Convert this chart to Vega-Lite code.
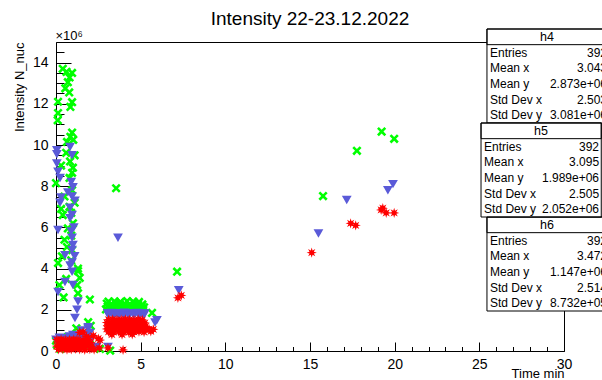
{
"$schema": "https://vega.github.io/schema/vega-lite/v6.json",
"width": 508, "height": 309,
"autosize": {"type": "none"},
"padding": {"left": 56, "top": 42, "right": 38, "bottom": 29},
"background": "white",
"config": {"view": {"stroke": "black", "strokeWidth": 1}, "font": "Liberation Sans",
  "axis": {"grid": false, "tickColor": "black", "domainColor": "black", "labelColor": "black", "titleColor": "black", "labelFont": "Liberation Sans", "titleFont": "Liberation Sans", "titleFontWeight": "normal"},
  "text": {"font": "Liberation Sans", "fontSize": 12, "color": "black"}},
"title": {"text": "Intensity 22-23.12.2022", "fontSize": 19, "fontWeight": "normal", "font": "Liberation Sans", "color": "black", "offset": 0, "anchor": "middle"},
"datasets": {
"points": [
{"series":"h4","time":0.40,"intensity":13.70},{"series":"h4","time":0.62,"intensity":13.55},{"series":"h4","time":0.95,"intensity":13.50},{"series":"h4","time":0.80,"intensity":13.28},{"series":"h4","time":0.70,"intensity":13.05},{"series":"h4","time":0.55,"intensity":12.75},{"series":"h4","time":0.78,"intensity":12.55},{"series":"h4","time":0.12,"intensity":12.10},{"series":"h4","time":0.95,"intensity":12.08},{"series":"h4","time":0.85,"intensity":11.85},{"series":"h4","time":0.12,"intensity":11.55},{"series":"h4","time":0.10,"intensity":11.20},{"series":"h4","time":0.95,"intensity":10.60},{"series":"h4","time":0.85,"intensity":10.40},{"series":"h4","time":1.02,"intensity":10.25},{"series":"h4","time":0.65,"intensity":10.15},{"series":"h4","time":0.60,"intensity":9.62},{"series":"h4","time":1.10,"intensity":9.50},{"series":"h4","time":0.83,"intensity":9.20},{"series":"h4","time":0.30,"intensity":9.00},{"series":"h4","time":1.00,"intensity":8.90},{"series":"h4","time":0.95,"intensity":8.65},{"series":"h4","time":0.80,"intensity":8.40},{"series":"h4","time":0.00,"intensity":8.15},{"series":"h4","time":0.95,"intensity":7.80},{"series":"h4","time":0.50,"intensity":7.50},{"series":"h4","time":1.10,"intensity":7.20},{"series":"h4","time":0.80,"intensity":7.00},{"series":"h4","time":0.30,"intensity":6.90},{"series":"h4","time":0.90,"intensity":6.70},{"series":"h4","time":0.40,"intensity":6.60},{"series":"h4","time":1.00,"intensity":6.20},{"series":"h4","time":0.70,"intensity":5.95},{"series":"h4","time":0.90,"intensity":5.60},{"series":"h4","time":0.50,"intensity":5.40},{"series":"h4","time":0.65,"intensity":5.05},{"series":"h4","time":0.95,"intensity":4.90},{"series":"h4","time":0.35,"intensity":4.60},{"series":"h4","time":0.90,"intensity":4.40},{"series":"h4","time":0.12,"intensity":4.27},{"series":"h4","time":1.30,"intensity":4.00},{"series":"h4","time":1.30,"intensity":3.88},{"series":"h4","time":0.60,"intensity":3.50},{"series":"h4","time":1.40,"intensity":3.55},{"series":"h4","time":1.25,"intensity":3.20},{"series":"h4","time":0.20,"intensity":3.20},{"series":"h4","time":1.30,"intensity":2.80},{"series":"h4","time":0.45,"intensity":2.60},{"series":"h4","time":2.00,"intensity":2.50},{"series":"h4","time":1.90,"intensity":1.40},{"series":"h4","time":2.05,"intensity":1.22},{"series":"h4","time":1.20,"intensity":1.10},
{"series":"h4","time":0.00,"intensity":0.50},{"series":"h4","time":0.05,"intensity":0.30},{"series":"h4","time":0.25,"intensity":0.10},{"series":"h4","time":0.45,"intensity":0.45},{"series":"h4","time":0.70,"intensity":0.68},{"series":"h4","time":0.90,"intensity":0.25},{"series":"h4","time":1.15,"intensity":0.40},{"series":"h4","time":1.55,"intensity":0.20},{"series":"h4","time":2.00,"intensity":0.30},{"series":"h4","time":2.60,"intensity":0.10},{"series":"h4","time":3.20,"intensity":0.02},
{"series":"h4","time":3.10,"intensity":2.40},{"series":"h4","time":3.45,"intensity":2.41},{"series":"h4","time":3.80,"intensity":2.39},{"series":"h4","time":4.20,"intensity":2.42},{"series":"h4","time":4.55,"intensity":2.40},{"series":"h4","time":4.90,"intensity":2.38},
{"series":"h4","time":3.00,"intensity":2.30},{"series":"h4","time":3.25,"intensity":2.28},{"series":"h4","time":3.55,"intensity":2.31},{"series":"h4","time":3.75,"intensity":2.29},{"series":"h4","time":4.05,"intensity":2.30},{"series":"h4","time":4.35,"intensity":2.27},{"series":"h4","time":4.65,"intensity":2.31},{"series":"h4","time":4.85,"intensity":2.29},{"series":"h4","time":5.10,"intensity":2.26},
{"series":"h4","time":3.05,"intensity":2.16},{"series":"h4","time":3.30,"intensity":2.15},{"series":"h4","time":3.50,"intensity":2.17},{"series":"h4","time":3.80,"intensity":2.16},{"series":"h4","time":4.00,"intensity":2.14},{"series":"h4","time":4.30,"intensity":2.16},{"series":"h4","time":4.55,"intensity":2.17},{"series":"h4","time":4.80,"intensity":2.15},{"series":"h4","time":5.05,"intensity":2.16},{"series":"h4","time":5.20,"intensity":2.12},
{"series":"h4","time":2.95,"intensity":2.02},{"series":"h4","time":3.20,"intensity":2.01},{"series":"h4","time":3.45,"intensity":2.03},{"series":"h4","time":3.70,"intensity":2.02},{"series":"h4","time":3.95,"intensity":2.00},{"series":"h4","time":4.20,"intensity":2.02},{"series":"h4","time":4.45,"intensity":2.03},{"series":"h4","time":4.70,"intensity":2.01},{"series":"h4","time":4.95,"intensity":2.02},{"series":"h4","time":5.15,"intensity":2.00},
{"series":"h4","time":3.55,"intensity":7.90},{"series":"h4","time":7.15,"intensity":3.85},{"series":"h4","time":5.67,"intensity":1.85},{"series":"h4","time":15.77,"intensity":7.52},{"series":"h4","time":17.77,"intensity":9.72},{"series":"h4","time":19.23,"intensity":10.65},{"series":"h4","time":19.97,"intensity":10.30},
{"series":"h5","time":0.05,"intensity":9.75},{"series":"h5","time":0.83,"intensity":9.90},{"series":"h5","time":0.95,"intensity":9.50},{"series":"h5","time":0.05,"intensity":9.55},{"series":"h5","time":0.05,"intensity":9.10},{"series":"h5","time":0.12,"intensity":8.70},{"series":"h5","time":0.24,"intensity":8.40},{"series":"h5","time":0.90,"intensity":8.20},{"series":"h5","time":1.00,"intensity":7.95},{"series":"h5","time":0.70,"intensity":7.70},{"series":"h5","time":0.95,"intensity":7.50},{"series":"h5","time":0.30,"intensity":7.45},{"series":"h5","time":1.12,"intensity":7.30},{"series":"h5","time":0.24,"intensity":7.20},{"series":"h5","time":0.83,"intensity":6.95},{"series":"h5","time":0.95,"intensity":6.60},{"series":"h5","time":0.83,"intensity":6.45},{"series":"h5","time":1.05,"intensity":6.00},{"series":"h5","time":0.12,"intensity":5.87},{"series":"h5","time":0.90,"intensity":5.80},{"series":"h5","time":0.95,"intensity":5.50},{"series":"h5","time":1.00,"intensity":5.15},{"series":"h5","time":0.95,"intensity":4.90},{"series":"h5","time":0.53,"intensity":4.65},{"series":"h5","time":1.10,"intensity":4.60},{"series":"h5","time":0.95,"intensity":4.30},{"series":"h5","time":0.83,"intensity":4.15},{"series":"h5","time":0.95,"intensity":3.85},{"series":"h5","time":0.53,"intensity":3.35},{"series":"h5","time":1.00,"intensity":3.20},{"series":"h5","time":0.12,"intensity":2.86},{"series":"h5","time":1.30,"intensity":2.40},{"series":"h5","time":1.24,"intensity":2.00},{"series":"h5","time":1.12,"intensity":1.60},{"series":"h5","time":1.90,"intensity":1.16},{"series":"h5","time":1.90,"intensity":1.08},{"series":"h5","time":2.00,"intensity":0.87},{"series":"h5","time":1.50,"intensity":1.00},{"series":"h5","time":2.40,"intensity":0.20},{"series":"h5","time":3.07,"intensity":0.20},
{"series":"h5","time":0.00,"intensity":0.55},{"series":"h5","time":0.20,"intensity":0.65},{"series":"h5","time":0.40,"intensity":0.58},{"series":"h5","time":0.60,"intensity":0.62},{"series":"h5","time":0.80,"intensity":0.70},{"series":"h5","time":1.00,"intensity":0.78},{"series":"h5","time":1.20,"intensity":0.66},{"series":"h5","time":1.40,"intensity":0.72},{"series":"h5","time":1.60,"intensity":0.80},{"series":"h5","time":1.80,"intensity":0.74},{"series":"h5","time":0.10,"intensity":0.42},{"series":"h5","time":0.50,"intensity":0.45},{"series":"h5","time":0.90,"intensity":0.48},{"series":"h5","time":1.30,"intensity":0.50},{"series":"h5","time":1.70,"intensity":0.52},{"series":"h5","time":2.10,"intensity":0.60},
{"series":"h5","time":3.05,"intensity":1.84},{"series":"h5","time":3.30,"intensity":1.85},{"series":"h5","time":3.55,"intensity":1.83},{"series":"h5","time":3.80,"intensity":1.84},{"series":"h5","time":4.05,"intensity":1.86},{"series":"h5","time":4.30,"intensity":1.84},{"series":"h5","time":4.55,"intensity":1.83},{"series":"h5","time":4.80,"intensity":1.85},{"series":"h5","time":5.05,"intensity":1.84},{"series":"h5","time":5.25,"intensity":1.82},
{"series":"h5","time":3.10,"intensity":1.72},{"series":"h5","time":3.40,"intensity":1.71},{"series":"h5","time":3.70,"intensity":1.73},{"series":"h5","time":4.00,"intensity":1.72},{"series":"h5","time":4.30,"intensity":1.70},{"series":"h5","time":4.60,"intensity":1.72},{"series":"h5","time":4.90,"intensity":1.73},{"series":"h5","time":5.15,"intensity":1.71},
{"series":"h5","time":3.66,"intensity":5.50},{"series":"h5","time":7.25,"intensity":2.95},{"series":"h5","time":5.96,"intensity":1.50},{"series":"h5","time":5.85,"intensity":1.38},{"series":"h5","time":15.50,"intensity":5.70},{"series":"h5","time":17.17,"intensity":7.33},{"series":"h5","time":19.60,"intensity":7.80},{"series":"h5","time":19.90,"intensity":8.10},
{"series":"h6","time":0.05,"intensity":0.55},{"series":"h6","time":0.30,"intensity":0.56},{"series":"h6","time":0.55,"intensity":0.54},{"series":"h6","time":0.80,"intensity":0.55},{"series":"h6","time":1.05,"intensity":0.57},{"series":"h6","time":1.30,"intensity":0.55},{"series":"h6","time":1.60,"intensity":0.53},{"series":"h6","time":1.90,"intensity":0.56},
{"series":"h6","time":0.15,"intensity":0.40},{"series":"h6","time":0.40,"intensity":0.41},{"series":"h6","time":0.65,"intensity":0.39},{"series":"h6","time":0.90,"intensity":0.40},{"series":"h6","time":1.15,"intensity":0.42},{"series":"h6","time":1.45,"intensity":0.40},{"series":"h6","time":1.75,"intensity":0.38},{"series":"h6","time":2.05,"intensity":0.41},
{"series":"h6","time":0.05,"intensity":0.24},{"series":"h6","time":0.30,"intensity":0.25},{"series":"h6","time":0.55,"intensity":0.23},{"series":"h6","time":0.80,"intensity":0.24},{"series":"h6","time":1.05,"intensity":0.26},{"series":"h6","time":1.30,"intensity":0.24},{"series":"h6","time":1.55,"intensity":0.22},{"series":"h6","time":1.80,"intensity":0.25},{"series":"h6","time":2.10,"intensity":0.23},
{"series":"h6","time":0.15,"intensity":0.08},{"series":"h6","time":0.40,"intensity":0.09},{"series":"h6","time":0.65,"intensity":0.07},{"series":"h6","time":0.90,"intensity":0.08},{"series":"h6","time":1.15,"intensity":0.10},{"series":"h6","time":1.40,"intensity":0.08},{"series":"h6","time":1.70,"intensity":0.06},{"series":"h6","time":2.00,"intensity":0.09},{"series":"h6","time":2.25,"intensity":0.07},
{"series":"h6","time":1.40,"intensity":0.90},{"series":"h6","time":1.60,"intensity":0.92},{"series":"h6","time":1.80,"intensity":0.70},{"series":"h6","time":2.20,"intensity":0.75},{"series":"h6","time":2.50,"intensity":0.60},{"series":"h6","time":2.60,"intensity":0.53},{"series":"h6","time":2.55,"intensity":0.15},{"series":"h6","time":3.07,"intensity":0.15},{"series":"h6","time":3.96,"intensity":0.05},
{"series":"h6","time":3.10,"intensity":1.52},{"series":"h6","time":3.35,"intensity":1.53},{"series":"h6","time":3.60,"intensity":1.51},{"series":"h6","time":3.85,"intensity":1.52},{"series":"h6","time":4.10,"intensity":1.54},{"series":"h6","time":4.35,"intensity":1.52},{"series":"h6","time":4.60,"intensity":1.50},{"series":"h6","time":4.85,"intensity":1.53},{"series":"h6","time":5.10,"intensity":1.51},
{"series":"h6","time":3.00,"intensity":1.38},{"series":"h6","time":3.25,"intensity":1.37},{"series":"h6","time":3.50,"intensity":1.39},{"series":"h6","time":3.75,"intensity":1.38},{"series":"h6","time":4.00,"intensity":1.36},{"series":"h6","time":4.25,"intensity":1.38},{"series":"h6","time":4.50,"intensity":1.39},{"series":"h6","time":4.75,"intensity":1.37},{"series":"h6","time":5.00,"intensity":1.38},{"series":"h6","time":5.25,"intensity":1.36},
{"series":"h6","time":3.05,"intensity":1.22},{"series":"h6","time":3.30,"intensity":1.21},{"series":"h6","time":3.55,"intensity":1.23},{"series":"h6","time":3.80,"intensity":1.22},{"series":"h6","time":4.05,"intensity":1.20},{"series":"h6","time":4.30,"intensity":1.22},{"series":"h6","time":4.55,"intensity":1.23},{"series":"h6","time":4.80,"intensity":1.21},{"series":"h6","time":5.05,"intensity":1.22},{"series":"h6","time":5.30,"intensity":1.20},
{"series":"h6","time":3.00,"intensity":1.07},{"series":"h6","time":3.25,"intensity":1.06},{"series":"h6","time":3.50,"intensity":1.08},{"series":"h6","time":3.75,"intensity":1.07},{"series":"h6","time":4.00,"intensity":1.05},{"series":"h6","time":4.25,"intensity":1.07},{"series":"h6","time":4.50,"intensity":1.08},{"series":"h6","time":4.75,"intensity":1.06},{"series":"h6","time":5.00,"intensity":1.07},{"series":"h6","time":5.25,"intensity":1.05},{"series":"h6","time":5.50,"intensity":1.06},
{"series":"h6","time":3.10,"intensity":0.93},{"series":"h6","time":3.40,"intensity":0.92},{"series":"h6","time":3.70,"intensity":0.94},{"series":"h6","time":4.00,"intensity":0.93},{"series":"h6","time":4.30,"intensity":0.91},{"series":"h6","time":4.60,"intensity":0.93},{"series":"h6","time":4.90,"intensity":0.94},{"series":"h6","time":5.20,"intensity":0.92},{"series":"h6","time":5.60,"intensity":0.95},
{"series":"h6","time":3.30,"intensity":0.80},{"series":"h6","time":3.90,"intensity":0.79},{"series":"h6","time":4.50,"intensity":0.81},{"series":"h6","time":5.75,"intensity":1.05},
{"series":"h6","time":7.20,"intensity":2.58},{"series":"h6","time":7.40,"intensity":2.70},{"series":"h6","time":15.10,"intensity":4.77},{"series":"h6","time":17.40,"intensity":6.20},{"series":"h6","time":17.70,"intensity":6.10},{"series":"h6","time":19.20,"intensity":6.85},{"series":"h6","time":19.30,"intensity":6.93},{"series":"h6","time":19.50,"intensity":6.70},{"series":"h6","time":19.97,"intensity":6.70}
],
"stats": [
{"box":"h4","stat":"title","value":"h4"},{"box":"h4","stat":"Entries","value":"392"},{"box":"h4","stat":"Mean x","value":"3.043"},{"box":"h4","stat":"Mean y","value":"2.873e+06"},{"box":"h4","stat":"Std Dev x","value":"2.503"},{"box":"h4","stat":"Std Dev y","value":"3.081e+06"},
{"box":"h5","stat":"title","value":"h5"},{"box":"h5","stat":"Entries","value":"392"},{"box":"h5","stat":"Mean x","value":"3.095"},{"box":"h5","stat":"Mean y","value":"1.989e+06"},{"box":"h5","stat":"Std Dev x","value":"2.505"},{"box":"h5","stat":"Std Dev y","value":"2.052e+06"},
{"box":"h6","stat":"title","value":"h6"},{"box":"h6","stat":"Entries","value":"392"},{"box":"h6","stat":"Mean x","value":"3.472"},{"box":"h6","stat":"Mean y","value":"1.147e+06"},{"box":"h6","stat":"Std Dev x","value":"2.514"},{"box":"h6","stat":"Std Dev y","value":"8.732e+05"}
]
},
"layer": [
{"data": {"name": "points"}, "transform": [{"filter": {"field": "series", "equal": "h4"}}],
 "mark": {"type": "point", "shape": "M-1,-0.6L-0.6,-1L0,-0.4L0.6,-1L1,-0.6L0.4,0L1,0.6L0.6,1L0,0.4L-0.6,1L-1,0.6L-0.4,0Z", "filled": true, "color": "#00ff00", "size": 85, "opacity": 1, "strokeWidth": 0},
 "encoding": {
  "x": {"field": "time", "type": "quantitative", "scale": {"domain": [0, 30], "nice": false, "zero": false},
        "axis": {"orient": "bottom", "values": [0,5,10,15,20,25,30], "format": "d", "tickSize": -9, "labelPadding": 15, "labelFlush": false, "labelFontSize": 14, "title": "Time min", "titleFontSize": 13, "titleAnchor": "end", "titleAlign": "right", "titleX": 508, "titleY": 22, "titleBaseline": "middle"}},
  "y": {"field": "intensity", "type": "quantitative", "scale": {"domain": [0, 15], "nice": false, "zero": false},
        "axis": {"orient": "left", "values": [0,2,4,6,8,10,12,14], "format": "d", "tickSize": -15, "labelPadding": 23, "labelFontSize": 14, "title": "Intensity N_nuc", "titleFontSize": 13, "titleAngle": -90, "titleX": -37, "titleY": 0, "titleAlign": "right", "titleBaseline": "middle"}}
 }},
{"data": {"name": "points"}, "transform": [{"filter": {"field": "series", "equal": "h5"}}],
 "mark": {"type": "point", "shape": "triangle-down", "filled": true, "color": "#5a5ad8", "size": 95, "opacity": 1, "strokeWidth": 0},
 "encoding": {
  "x": {"field": "time", "type": "quantitative", "scale": {"domain": [0, 30], "nice": false, "zero": false},
        "axis": {"orient": "bottom", "values": [0,1,2,3,4,6,7,8,9,11,12,13,14,16,17,18,19,21,22,23,24,26,27,28,29], "tickSize": -4.5, "labels": false, "domain": false, "title": null}},
  "y": {"field": "intensity", "type": "quantitative", "scale": {"domain": [0, 15], "nice": false, "zero": false},
        "axis": {"orient": "left", "values": [0.5,1,1.5,2.5,3,3.5,4.5,5,5.5,6.5,7,7.5,8.5,9,9.5,10.5,11,11.5,12.5,13,13.5,14.5], "tickSize": -8, "labels": false, "domain": false, "title": "×10⁶", "titleFontSize": 13, "titleAngle": 0, "titleX": -1, "titleY": -3, "titleAlign": "left", "titleBaseline": "alphabetic"}}
 }},
{"data": {"name": "points"}, "transform": [{"filter": {"field": "series", "equal": "h6"}}],
 "mark": {"type": "point", "shape": "M0,-1L0.172,-0.416L0.707,-0.707L0.416,-0.172L1,0L0.416,0.172L0.707,0.707L0.172,0.416L0,1L-0.172,0.416L-0.707,0.707L-0.416,0.172L-1,0L-0.416,-0.172L-0.707,-0.707L-0.172,-0.416Z", "filled": true, "color": "#ff0000", "size": 105, "opacity": 1, "strokeWidth": 0},
 "encoding": {
  "x": {"field": "time", "type": "quantitative", "scale": {"domain": [0, 30], "nice": false, "zero": false}, "axis": null},
  "y": {"field": "intensity", "type": "quantitative", "scale": {"domain": [0, 15], "nice": false, "zero": false}, "axis": null}
 }},
{"data": {"name": "stats"}, "transform": [{"filter": "datum.stat === 'title' && datum.box !== 'h5'"}],
 "mark": {"type": "rect", "fill": "white", "stroke": "black", "strokeWidth": 1},
 "encoding": {"x": {"datum": 25.45, "type": "quantitative", "axis": null}, "x2": {"datum": 33},
  "y": {"field": "box", "type": "nominal", "scale": {"domain": ["h4","h5","h6"], "range": [-13, 269], "paddingInner": 0, "paddingOuter": 0}, "axis": null}}},
{"data": {"name": "stats"}, "transform": [{"filter": "datum.stat === 'title' && datum.box === 'h5'"}],
 "mark": {"type": "rect", "fill": "white", "stroke": "black", "strokeWidth": 1},
 "encoding": {"x": {"datum": 25.1, "type": "quantitative", "axis": null}, "x2": {"datum": 32.2},
  "y": {"field": "box", "type": "nominal", "scale": {"domain": ["h4","h5","h6"], "range": [-13, 269], "paddingInner": 0, "paddingOuter": 0}, "axis": null}}},
{"data": {"name": "stats"}, "transform": [{"filter": "datum.stat === 'title' && datum.box !== 'h5'"}],
 "mark": {"type": "rect", "fill": "white", "fillOpacity": 0, "stroke": "black", "strokeWidth": 1},
 "encoding": {"x": {"datum": 25.45, "type": "quantitative", "axis": null}, "x2": {"datum": 33},
  "y": {"field": "box", "type": "nominal", "scale": {"domain": ["h4","h5","h6"], "range": [-13, 269], "paddingInner": 0, "paddingOuter": 0}, "axis": null},
  "yOffset": {"field": "stat", "type": "nominal", "scale": {"domain": ["title","Entries","Mean x","Mean y","Std Dev x","Std Dev y"], "paddingInner": 0, "paddingOuter": 0}}}},
{"data": {"name": "stats"}, "transform": [{"filter": "datum.stat === 'title' && datum.box === 'h5'"}],
 "mark": {"type": "rect", "fill": "white", "fillOpacity": 0, "stroke": "black", "strokeWidth": 1},
 "encoding": {"x": {"datum": 25.1, "type": "quantitative", "axis": null}, "x2": {"datum": 32.2},
  "y": {"field": "box", "type": "nominal", "scale": {"domain": ["h4","h5","h6"], "range": [-13, 269], "paddingInner": 0, "paddingOuter": 0}, "axis": null},
  "yOffset": {"field": "stat", "type": "nominal", "scale": {"domain": ["title","Entries","Mean x","Mean y","Std Dev x","Std Dev y"], "paddingInner": 0, "paddingOuter": 0}}}},
{"data": {"name": "stats"}, "transform": [{"filter": "datum.stat === 'title' && datum.box !== 'h5'"}],
 "mark": {"type": "text", "align": "center", "baseline": "middle", "fontSize": 12.5},
 "encoding": {"x": {"datum": 29.0, "type": "quantitative", "axis": null}, "text": {"field": "value"},
  "y": {"field": "box", "type": "nominal", "scale": {"domain": ["h4","h5","h6"], "range": [-13, 269], "paddingInner": 0, "paddingOuter": 0}, "axis": null},
  "yOffset": {"field": "stat", "type": "nominal", "scale": {"domain": ["title","Entries","Mean x","Mean y","Std Dev x","Std Dev y"], "paddingInner": 0, "paddingOuter": 0}}}},
{"data": {"name": "stats"}, "transform": [{"filter": "datum.stat === 'title' && datum.box === 'h5'"}],
 "mark": {"type": "text", "align": "center", "baseline": "middle", "fontSize": 12.5},
 "encoding": {"x": {"datum": 28.64, "type": "quantitative", "axis": null}, "text": {"field": "value"},
  "y": {"field": "box", "type": "nominal", "scale": {"domain": ["h4","h5","h6"], "range": [-13, 269], "paddingInner": 0, "paddingOuter": 0}, "axis": null},
  "yOffset": {"field": "stat", "type": "nominal", "scale": {"domain": ["title","Entries","Mean x","Mean y","Std Dev x","Std Dev y"], "paddingInner": 0, "paddingOuter": 0}}}},
{"data": {"name": "stats"}, "transform": [{"filter": "datum.stat !== 'title' && datum.box !== 'h5'"}],
 "mark": {"type": "text", "align": "left", "baseline": "middle", "fontSize": 12},
 "encoding": {"x": {"datum": 25.63, "type": "quantitative", "axis": null}, "text": {"field": "stat"},
  "y": {"field": "box", "type": "nominal", "scale": {"domain": ["h4","h5","h6"], "range": [-13, 269], "paddingInner": 0, "paddingOuter": 0}, "axis": null},
  "yOffset": {"field": "stat", "type": "nominal", "scale": {"domain": ["title","Entries","Mean x","Mean y","Std Dev x","Std Dev y"], "paddingInner": 0, "paddingOuter": 0}}}},
{"data": {"name": "stats"}, "transform": [{"filter": "datum.stat !== 'title' && datum.box === 'h5'"}],
 "mark": {"type": "text", "align": "left", "baseline": "middle", "fontSize": 12},
 "encoding": {"x": {"datum": 25.28, "type": "quantitative", "axis": null}, "text": {"field": "stat"},
  "y": {"field": "box", "type": "nominal", "scale": {"domain": ["h4","h5","h6"], "range": [-13, 269], "paddingInner": 0, "paddingOuter": 0}, "axis": null},
  "yOffset": {"field": "stat", "type": "nominal", "scale": {"domain": ["title","Entries","Mean x","Mean y","Std Dev x","Std Dev y"], "paddingInner": 0, "paddingOuter": 0}}}},
{"data": {"name": "stats"}, "transform": [{"filter": "datum.stat !== 'title' && datum.box !== 'h5'"}],
 "mark": {"type": "text", "align": "right", "baseline": "middle", "fontSize": 12},
 "encoding": {"x": {"datum": 32.54, "type": "quantitative", "axis": null}, "text": {"field": "value"},
  "y": {"field": "box", "type": "nominal", "scale": {"domain": ["h4","h5","h6"], "range": [-13, 269], "paddingInner": 0, "paddingOuter": 0}, "axis": null},
  "yOffset": {"field": "stat", "type": "nominal", "scale": {"domain": ["title","Entries","Mean x","Mean y","Std Dev x","Std Dev y"], "paddingInner": 0, "paddingOuter": 0}}}},
{"data": {"name": "stats"}, "transform": [{"filter": "datum.stat !== 'title' && datum.box === 'h5'"}],
 "mark": {"type": "text", "align": "right", "baseline": "middle", "fontSize": 12},
 "encoding": {"x": {"datum": 32.07, "type": "quantitative", "axis": null}, "text": {"field": "value"},
  "y": {"field": "box", "type": "nominal", "scale": {"domain": ["h4","h5","h6"], "range": [-13, 269], "paddingInner": 0, "paddingOuter": 0}, "axis": null},
  "yOffset": {"field": "stat", "type": "nominal", "scale": {"domain": ["title","Entries","Mean x","Mean y","Std Dev x","Std Dev y"], "paddingInner": 0, "paddingOuter": 0}}}}
],
"resolve": {"scale": {"y": "independent"}, "axis": {"x": "independent", "y": "independent"}}
}
